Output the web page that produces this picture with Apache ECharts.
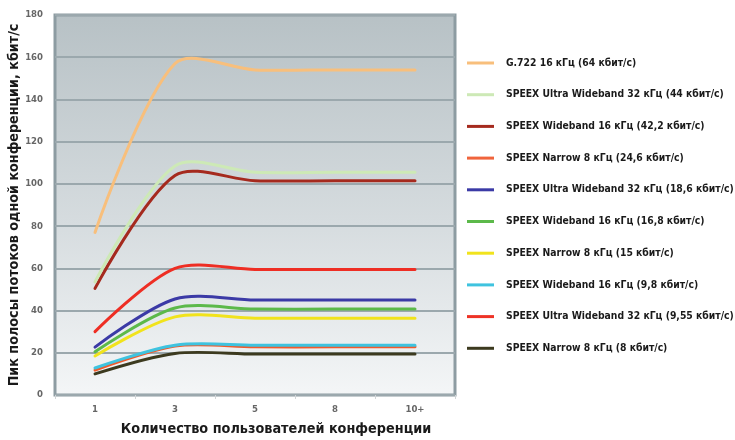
<!DOCTYPE html>
<html>
<head>
<meta charset="utf-8">
<script src="https://cdn.jsdelivr.net/npm/echarts@6/dist/echarts.min.js"></script>
<style>
  html, body { margin: 0; padding: 0; background: #ffffff; }
  #chart { width: 735px; height: 440px; }
</style>
</head>
<body>
<div id="chart"></div>
<script>
var myChart = echarts.init(document.getElementById('chart'));

// число пользователей
var users = ['1', '3', '5', '8', '10+'];

var codecNames = [
    'G.722 16 кГц (64 кбит/с)',
    'SPEEX Ultra Wideband 32 кГц (44 кбит/с)',
    'SPEEX Wideband 16 кГц (42,2 кбит/с)',
    'SPEEX Narrow 8 кГц (24,6 кбит/с)',
    'SPEEX Ultra Wideband 32 кГц (18,6 кбит/с)',
    'SPEEX Wideband 16 кГц (16,8 кбит/с)',
    'SPEEX Narrow 8 кГц (15 кбит/с)',
    'SPEEX Wideband 16 кГц (9,8 кбит/с)',
    'SPEEX Ultra Wideband 32 кГц (9,55 кбит/с)',
    'SPEEX Narrow 8 кГц (8 кбит/с)'
];

var g722_64 = [77, 157, 154, 154, 154];
var uwb_44 = [53.5, 108.5, 105.5, 105.5, 105.5];
var wb_42 = [50.5, 104, 101.5, 101.5, 101.5];
var nb_24 = [30, 60, 59.5, 59.5, 59.5];
var uwb_18 = [22.7, 45.5, 45, 45, 45];
var wb_16 = [20.5, 41.2, 40.7, 40.7, 40.7];
var nb_15 = [18.5, 37, 36.4, 36.4, 36.4];
var wb_9 = [12.8, 23.6, 23.6, 23.6, 23.6];
var uwb_9 = [11.8, 23.2, 22.8, 22.8, 22.8];
var nb_8 = [10, 19.7, 19.4, 19.4, 19.4];

var seriesData = [g722_64, uwb_44, wb_42, nb_24, uwb_18, wb_16, nb_15, wb_9, uwb_9, nb_8];
var lineColors = ['#f8bf7c', '#cde9b6', '#a52a1e', '#ee2e24', '#3b3aa6', '#5cb94a', '#f1e31c', '#3fc3df', '#f05a2c', '#3c3a1f'];
var legendColors = ['#f8bf7c', '#cde9b6', '#a52a1e', '#f0643c', '#3b3aa6', '#5cb94a', '#f1e31c', '#3fc3df', '#ee3326', '#3c3a1f'];

var font = '"DejaVu Sans Condensed", "Liberation Sans", sans-serif';

// сглаженная кривая через точки серии (как в Excel)
function curve(values, color) {
    return function (params, api) {
        if (params.dataIndex !== 0) return null;
        var pts = [];
        for (var k = 0; k < values.length; k++) {
            pts.push(api.coord([k, values[k]]));
        }
        return {
            type: 'polyline',
            silent: true,
            shape: { points: pts, smooth: 0.3 },
            style: { fill: null, stroke: color, lineWidth: 3, lineJoin: 'round', lineCap: 'round' }
        };
    };
}

var series = [];
for (var i = 0; i < codecNames.length; i++) {
    series.push({
        name: codecNames[i],
        type: 'custom',
        renderItem: curve(seriesData[i], lineColors[i]),
        data: seriesData[i].map(function (v, k) { return [k, v]; }),
        encode: { x: 0, y: 1 },
        z: 10 - i,
        itemStyle: { color: legendColors[i] }
    });
}

var option = {
    backgroundColor: '#ffffff',
    animation: false,
    grid: {
        left: 55,
        right: 280,
        top: 15,
        bottom: 45,
        outerBoundsMode: 'none',
        containLabel: false,
        show: true,
        borderColor: '#8d9ca2',
        borderWidth: 3,
        backgroundColor: new echarts.graphic.LinearGradient(0, 0, 0, 1, [
            { offset: 0, color: '#b7c1c5' },
            { offset: 0.55, color: '#d6dcdf' },
            { offset: 1, color: '#f4f6f7' }
        ])
    },
    legend: {
        orient: 'vertical',
        left: 462,
        top: 51,
        icon: 'rect',
        itemWidth: 27,
        itemHeight: 3,
        itemGap: 17.7,
        textStyle: {
            fontFamily: font,
            fontWeight: 'bold',
            fontSize: 10.3,
            lineHeight: 14,
            color: '#1a1a1a',
            padding: [0, 0, 0, 7]
        },
        data: codecNames
    },
    xAxis: {
        type: 'category',
        data: users,
        boundaryGap: true,
        name: 'Количество пользователей конференции',
        nameLocation: 'middle',
        nameGap: 27,
        nameTextStyle: {
            fontFamily: font,
            fontWeight: 'bold',
            fontSize: 14.3,
            color: '#1a1a1a',
            padding: [0, 0, 0, 42]
        },
        axisLine: { show: false },
        axisTick: { show: true, length: 4, lineStyle: { color: '#d0d4d6' } },
        axisLabel: { margin: 10, fontSize: 9.5, fontWeight: 'bold', color: '#666666', fontFamily: font }
    },
    yAxis: {
        type: 'value',
        min: 0,
        max: 180,
        interval: 20,
        name: 'Пик полосы потоков одной конференции, кбит/с',
        nameLocation: 'middle',
        nameGap: 34,
        nameMoveOverlap: false,
        nameTextStyle: {
            fontFamily: font,
            fontWeight: 'bold',
            fontSize: 14.2,
            color: '#1a1a1a'
        },
        axisLine: { show: false },
        axisTick: { show: false },
        axisLabel: { margin: 12, fontSize: 9.5, fontWeight: 'bold', color: '#666666', fontFamily: font },
        splitLine: { lineStyle: { color: '#9ba8ad', width: 2 } }
    },
    series: series
};

myChart.setOption(option);
</script>
</body>
</html>
